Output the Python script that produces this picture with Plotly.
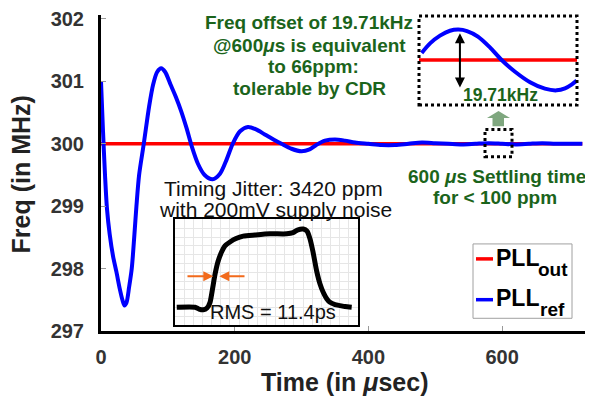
import plotly.graph_objects as go

# ---------------- data ----------------
# PLL_out reference (constant 300 MHz)
pll_out_t = [0, 720]
pll_out_f = [300.0, 300.0]

# PLL_ref settling response (time in usec, freq in MHz)
pll_ref_t = [0, 3, 6, 9, 13, 18, 23, 28, 32, 35, 38, 42, 46, 50, 53, 57, 64, 72, 78, 84,
             90, 96, 104, 112, 120, 128, 136, 145, 155, 167, 178, 188, 197, 208, 220,
             232, 245, 258, 270, 285, 300, 312, 322, 335, 350, 365, 380, 400, 420, 440,
             460, 480, 500, 520, 540, 560, 580, 600, 620, 640, 660, 680, 700, 720]
pll_ref_f = [301.0, 300.2, 299.5, 298.95, 298.55, 298.2, 297.95, 297.68, 297.5, 297.41,
             297.45, 297.7, 298.0, 298.55, 299.0, 299.5, 300.0, 300.6, 300.95, 301.15,
             301.21, 301.15, 300.95, 300.75, 300.52, 300.25, 299.95, 299.68, 299.5, 299.43,
             299.52, 299.75, 300.0, 300.2, 300.27, 300.23, 300.15, 300.07, 300.0, 299.92,
             299.88, 299.91, 299.98, 300.05, 300.07, 300.05, 300.02, 300.0, 299.98, 299.98,
             300.0, 300.02, 300.01, 300.0, 299.99, 300.0, 300.01, 300.0, 299.99, 300.0,
             300.01, 300.0, 300.0, 300.0]

# Zoomed view around 600 usec (relative position, offset in kHz)
zoom_t = [1.7, 7, 13.3, 19.6, 24.9, 30.4, 37.3, 44.9, 52.3, 60.8, 70.3, 79.7, 87.1, 92.4, 96.8, 99.8]
zoom_dev_khz = [2.3, 5.4, 7.9, 9.5, 9.86, 9.4, 7.6, 4.1, 0.0, -3.8, -7.2, -9.3, -9.85, -9.2, -7.9, -6.7]
zoom_ref_t = [0, 100]
zoom_ref_dev = [0, 0]

# Timing-jitter eye waveform (arbitrary units)
eye_t = [1.9, 21.9, 26.2, 30.9, 35.0, 38.3, 41.0, 43.7, 47.0, 51.0, 54.6, 60.1, 66.7, 74.6,
         87.4, 103.8, 122.1, 129.0, 134.4, 140.2, 144.3, 147.5, 150.8, 154.9, 158.5, 162.1,
         165.8, 169.4, 174.9, 180.3, 185.8, 193.1]
eye_v = [20.3, 20.3, 18.3, 17.4, 19.4, 25.9, 41.1, 57.4, 72.2, 83.3, 90.0, 94.4, 98.3, 101.1,
         102.4, 103.7, 103.7, 105.0, 108.3, 109.2, 106.7, 98.1, 83.3, 61.1, 46.7, 37.0,
         30.0, 25.9, 23.3, 22.2, 21.1, 20.3]

x_ticks = [0, 200, 400, 600]
y_ticks = [297, 298, 299, 300, 301, 302]

# ---------------- geometry helpers (screen pixels) ----------------
OFF = 8                      # page body margin
W, H = 593 - OFF, 405 - OFF  # figure size
L, R, T, B = 101, 587, 8, 331  # plot area in screen pixels


def px(x):
    return (x - L) / (R - L)


def py(y):
    return (B - y) / (B - T)


FONT = "Arial, 'Liberation Sans', sans-serif"
GREEN = "#1b641b"

fig = go.Figure()
fig.add_trace(go.Scatter(x=pll_out_t, y=pll_out_f, mode="lines",
                         line=dict(color="#ff0000", width=3.5), showlegend=False))
fig.add_trace(go.Scatter(x=pll_ref_t, y=pll_ref_f, mode="lines",
                         line=dict(color="#0000ff", width=4, shape="spline", smoothing=0.8),
                         showlegend=False))
fig.add_trace(go.Scatter(x=eye_t, y=eye_v, mode="lines", xaxis="x2", yaxis="y2",
                         line=dict(color="#000000", width=5, shape="spline", smoothing=0.6),
                         showlegend=False))
fig.add_trace(go.Scatter(x=zoom_ref_t, y=zoom_ref_dev, mode="lines", xaxis="x3", yaxis="y3",
                         line=dict(color="#ff0000", width=3.5), showlegend=False))
fig.add_trace(go.Scatter(x=zoom_t, y=zoom_dev_khz, mode="lines", xaxis="x3", yaxis="y3",
                         line=dict(color="#0000ff", width=4, shape="spline", smoothing=0.8),
                         showlegend=False))

tickfont = dict(family=FONT, size=20, color="#333333", weight="bold")

fig.update_layout(
    width=W, height=H,
    margin=dict(l=L - OFF, r=(W + OFF) - R, t=T - OFF, b=(H + OFF) - B, pad=0),
    paper_bgcolor="white", plot_bgcolor="white",
    showlegend=False,
    xaxis=dict(range=[0, 727], tickvals=x_ticks, ticks="inside", ticklen=5, tickwidth=1,
               tickcolor="#999999", showline=True, linecolor="black", linewidth=3,
               showgrid=False, zeroline=False, tickfont=tickfont, ticklabelstandoff=6,
               ticklabeloverflow="allow"),
    yaxis=dict(range=[297, 302.063], tickvals=y_ticks, ticks="inside", ticklen=5, tickwidth=1,
               tickcolor="#999999", showline=True, linecolor="black", linewidth=3,
               showgrid=False, zeroline=False, tickfont=tickfont, ticklabelstandoff=10,
               ticklabeloverflow="allow"),
    xaxis2=dict(domain=[px(175), px(358)], anchor="y2", range=[0, 200], dtick=10,
                showgrid=True, gridcolor="#e6e6e6", gridwidth=1, zeroline=False,
                showticklabels=False, ticks="", showline=True, mirror=True,
                linecolor="black", linewidth=2),
    yaxis2=dict(domain=[py(325), py(217)], anchor="x2", range=[0, 120], dtick=10,
                showgrid=True, gridcolor="#e6e6e6", gridwidth=1, zeroline=False,
                showticklabels=False, ticks="", showline=True, mirror=True,
                linecolor="black", linewidth=2),
    xaxis3=dict(domain=[px(419), px(577)], anchor="y3", range=[0, 100], visible=False),
    yaxis3=dict(domain=[py(100), py(8)], anchor="x3", range=[-14.6, 14.6], visible=False),
)

shapes = []


def prect(x0, y0, x1, y1, **kw):
    shapes.append(dict(type="rect", xref="paper", yref="paper",
                       x0=px(x0), x1=px(x1), y0=py(y1), y1=py(y0), **kw))


def pline(x0, y0, x1, y1, **kw):
    shapes.append(dict(type="line", xref="paper", yref="paper",
                       x0=px(x0), x1=px(x1), y0=py(y0), y1=py(y1), **kw))


# dotted boxes
prect(419, 9, 577, 100, line=dict(color="black", width=3, dash="dot"))
prect(485, 125, 512, 153, line=dict(color="black", width=3, dash="dot"))
# green up arrow
pts = [(487, 113.3), (498.5, 106), (510, 113.3), (504, 113.3), (504, 121.7), (492.5, 121.7), (492.5, 113.3)]
path = "M " + " L ".join(f"{px(a):.5f},{py(b):.5f}" for a, b in pts) + " Z"
shapes.append(dict(type="path", xref="paper", yref="paper", path=path,
                   fillcolor="#7fa77f", line=dict(width=0)))
# legend box and samples
prect(473, 242, 572, 318, line=dict(color="#a0a0a0", width=1), fillcolor="white")
pline(476, 257.3, 493, 257.3, line=dict(color="#ff0000", width=3.5))
pline(476, 299, 493, 299, line=dict(color="#0000ff", width=3.5))
fig.update_layout(shapes=shapes)

ann = []


def ptext(text, x, y, size, color="black", bold=False, xanchor="center", angle=0):
    ann.append(dict(text=text, xref="paper", yref="paper", x=px(x), y=py(y),
                    xanchor=xanchor, yanchor="middle", showarrow=False, textangle=angle,
                    font=dict(family=FONT, size=size, color=color,
                              weight="bold" if bold else "normal")))


# green notes
ptext("Freq offset of 19.71kHz", 309, 16, 19, GREEN, True)
ptext("@600<i>μ</i>s is equivalent", 309, 39.3, 19, GREEN, True)
ptext("to 66ppm:", 313, 61, 19, GREEN, True)
ptext("tolerable by CDR", 309, 83.3, 19, GREEN, True)
ptext("600 <i>μ</i>s Settling time", 497, 172.7, 19, GREEN, True)
ptext("for &lt; 100 ppm", 495, 194.5, 19, GREEN, True)
ptext("19.71kHz", 500.5, 89.3, 17.5, GREEN, True)
# jitter notes
ptext("Timing Jitter: 3420 ppm", 273, 185, 21, "#111111")
ptext("with 200mV supply noise", 275, 207, 21, "#111111")
ptext("RMS = 11.4ps", 273, 312, 20, "#111111")
# axis titles
ptext("Time (in <i>μ</i>sec)", 344, 383, 25, "#222222", True)
ptext("Freq (in MHz)", 21, 171, 25, "#222222", True, angle=-90)
# legend labels
ptext("PLL", 494, 256, 23, "black", True, xanchor="left")
ptext("out", 536, 268, 19, "black", True, xanchor="left")
ptext("PLL", 494, 297, 23, "black", True, xanchor="left")
ptext("ref", 538, 309, 19, "black", True, xanchor="left")

# arrows
ann.append(dict(x=25.9, y=-8.9, ax=25.9, ay=9.2, xref="x3", yref="y3", axref="x3", ayref="y3",
                text="", showarrow=True, arrowhead=2, startarrowhead=2, arrowside="end+start",
                arrowwidth=2, arrowsize=1, startarrowsize=1, arrowcolor="black"))
ann.append(dict(x=41.9, y=55.6, ax=12, ay=55.6, xref="x2", yref="y2", axref="x2", ayref="y2",
                text="", showarrow=True, arrowhead=2, arrowwidth=2, arrowsize=1,
                arrowcolor="#f26a1b"))
ann.append(dict(x=48.4, y=55.6, ax=77.6, ay=55.6, xref="x2", yref="y2", axref="x2", ayref="y2",
                text="", showarrow=True, arrowhead=2, arrowwidth=2, arrowsize=1,
                arrowcolor="#f26a1b"))
fig.update_layout(annotations=ann)

fig.write_html("out.html")
